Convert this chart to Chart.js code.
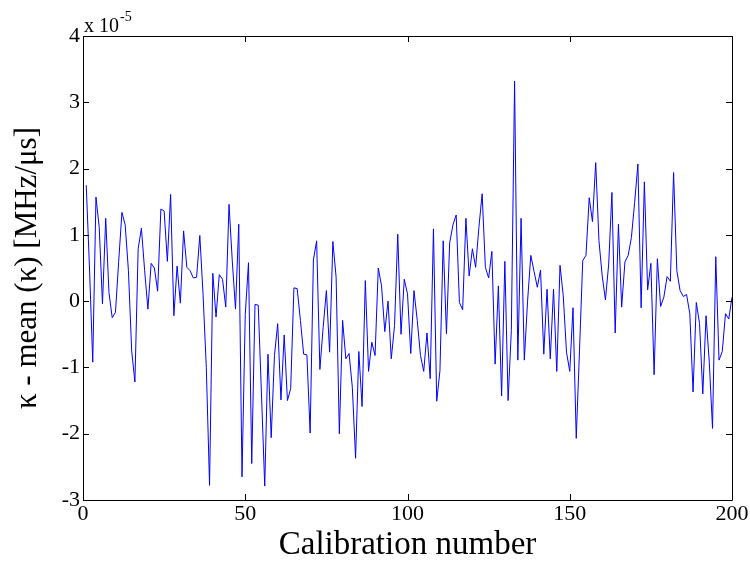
<!DOCTYPE html>
<html>
<head>
<meta charset="utf-8">
<script src="https://cdn.jsdelivr.net/npm/chart.js@4.4.1/dist/chart.umd.min.js"></script>
<style>
  html, body { margin: 0; padding: 0; background: #fff; }
  #wrap { width: 750px; height: 562px; }
</style>
</head>
<body>
<div id="wrap"><canvas id="chartKappa"></canvas></div>
<script>
// Tick labels
const calibrationTicks = [0, 50, 100, 150, 200];
const kappaTicks = [-3, -2, -1, 0, 1, 2, 3, 4];

// kappa - mean(kappa), in units of 1e-5 MHz/us, calibrations 1..200
const kappaDev = [
    1.75, 0.50, -0.92, 1.57, 1.11, -0.04, 1.25, 0.13, -0.25, -0.17,
    0.60, 1.34, 1.15, 0.46, -0.75, -1.22, 0.79, 1.10, 0.46, -0.12,
    0.57, 0.50, 0.15, 1.39, 1.36, 0.60, 1.61, -0.22, 0.53, -0.03,
    1.06, 0.51, 0.46, 0.35, 0.36, 0.99, 0.10, -1.00, -2.78, 0.42,
    -0.24, 0.40, 0.33, -0.09, 1.46, 0.61, -0.12, 1.16, -2.65, -0.20,
    0.58, -2.45, -0.05, -0.06, -1.40, -2.79, -0.80, -2.06, -0.82, -0.34,
    -1.49, -0.51, -1.50, -1.32, 0.20, 0.19, -0.29, -0.80, -0.81, -1.99,
    0.62, 0.91, -1.03, -0.40, 0.16, -0.77, 0.90, 0.36, -2.00, -0.29,
    -0.87, -0.79, -1.30, -2.37, -0.76, -1.59, 0.31, -1.06, -0.62, -0.82,
    0.50, 0.23, -0.46, 0.00, -0.87, -0.37, 1.01, -0.50, 0.33, 0.11,
    -0.79, 0.16, -0.29, -0.82, -1.06, -0.48, -1.17, 1.09, -1.51, -1.05,
    0.91, -0.49, 0.88, 1.15, 1.30, -0.02, -0.13, 1.25, 0.38, 0.79,
    0.51, 1.11, 1.62, 0.51, 0.35, 0.75, -0.95, 0.23, -1.43, 0.60,
    -1.50, -0.44, 3.32, -0.89, 1.25, -0.89, 0.00, 0.69, 0.45, 0.21,
    0.47, -0.80, 0.18, -0.87, 0.18, -1.06, 0.54, 0.08, -0.77, -1.06,
    -0.10, -2.07, -0.75, 0.61, 0.69, 1.56, 1.20, 2.09, 0.91, 0.38,
    0.02, 0.56, 1.64, -0.48, 1.16, -0.09, 0.59, 0.69, 0.96, 1.49,
    2.07, -0.10, 1.80, 0.17, 0.57, -1.11, 0.64, -0.08, 0.06, 0.37,
    0.30, 1.94, 0.46, 0.16, 0.07, 0.10, -0.19, -1.37, -0.02, -0.34,
    -1.40, -0.22, -0.92, -1.92, 0.67, -0.89, -0.76, -0.19, -0.27, 0.06
];

const SERIF = '"Liberation Serif", "Times New Roman", serif';

// Box round the plot area, inward ticks, and the x 10^-5 multiplier
const matlabAxes = {
    id: 'matlabAxes',
    afterDatasetsDraw(chart) {
        const { ctx, chartArea: a, scales } = chart;
        const tick = 6;
        ctx.save();
        ctx.strokeStyle = '#000';
        ctx.lineWidth = 1;
        ctx.beginPath();
        ctx.rect(Math.round(a.left) + 0.5, Math.round(a.top) + 0.5,
                 Math.round(a.right - a.left), Math.round(a.bottom - a.top));
        ctx.stroke();

        ctx.beginPath();
        scales.x.ticks.forEach(t => {
            const x = Math.round(scales.x.getPixelForValue(t.value)) + 0.5;
            ctx.moveTo(x, a.bottom); ctx.lineTo(x, a.bottom - tick);
            ctx.moveTo(x, a.top); ctx.lineTo(x, a.top + tick);
        });
        scales.y.ticks.forEach(t => {
            const y = Math.round(scales.y.getPixelForValue(t.value)) + 0.5;
            ctx.moveTo(a.left, y); ctx.lineTo(a.left + tick, y);
            ctx.moveTo(a.right, y); ctx.lineTo(a.right - tick, y);
        });
        ctx.stroke();

        ctx.fillStyle = '#000';
        ctx.textBaseline = 'alphabetic';
        ctx.textAlign = 'left';
        ctx.font = '20px ' + SERIF;
        ctx.fillText('x 10', a.left + 1, a.top - 4);
        const w = ctx.measureText('x 10').width;
        ctx.font = '14px ' + SERIF;
        ctx.fillText('-5', a.left + 1 + w + 1, a.top - 15);
        ctx.restore();
    }
};

new Chart(document.getElementById('chartKappa'), {
    type: 'line',
    data: {
        datasets: [{
            data: kappaDev.map((v, i) => ({ x: i + 1, y: v })),
            borderColor: '#0000ff',
            borderWidth: 1,
            pointRadius: 0,
            tension: 0,
            fill: false
        }]
    },
    options: {
        responsive: true,
        maintainAspectRatio: false,
        animation: false,
        layout: { padding: { top: 36, right: 18, left: 0, bottom: 0 } },
        plugins: {
            legend: { display: false },
            tooltip: { enabled: false }
        },
        scales: {
            x: {
                type: 'linear',
                min: 0,
                max: 200,
                afterBuildTicks: s => { s.ticks = calibrationTicks.map(v => ({ value: v })); },
                afterFit: s => { s.height = 62; },
                grid: { display: false, drawTicks: false },
                border: { display: false },
                ticks: {
                    padding: 1,
                    color: '#000',
                    maxRotation: 0,
                    font: { family: SERIF, size: 22 }
                },
                title: {
                    display: true,
                    text: 'Calibration number',
                    color: '#000',
                    padding: { top: 0, bottom: 0 },
                    font: { family: SERIF, size: 33, lineHeight: 1 }
                }
            },
            y: {
                type: 'linear',
                min: -3,
                max: 4,
                afterBuildTicks: s => { s.ticks = kappaTicks.map(v => ({ value: v })); },
                afterFit: s => { s.width = 83; },
                grid: { display: false, drawTicks: false },
                border: { display: false },
                ticks: {
                    padding: 3,
                    color: '#000',
                    font: { family: SERIF, size: 22 }
                },
                title: {
                    display: true,
                    text: 'κ - mean (κ) [MHz/μs]',
                    color: '#000',
                    padding: { top: 12, bottom: 0 },
                    font: { family: SERIF, size: 31, lineHeight: 1 }
                }
            }
        }
    },
    plugins: [matlabAxes]
});
</script>
</body>
</html>
